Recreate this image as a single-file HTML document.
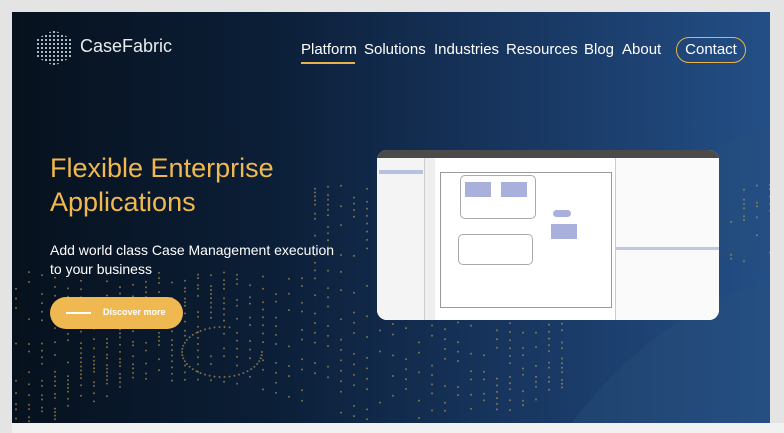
<!DOCTYPE html>
<html><head><meta charset="utf-8"><style>
*{margin:0;padding:0;box-sizing:border-box}
body{width:784px;height:433px;background:#e4e4e4;font-family:"Liberation Sans",sans-serif;overflow:hidden;position:relative}
#panel{position:absolute;left:12px;top:12px;width:758px;height:411px;overflow:hidden;background:linear-gradient(90deg,#06111d 0%,#0c1f38 35%,#17355e 65%,#234f86 100%)}
#bottom{position:absolute;left:12px;top:423px;width:772px;height:10px;background:#f1f1f1}
.nav{position:absolute;top:29px;color:#fff;font-size:15px}
</style></head><body>
<div id="panel">
<svg id="dots" width="758" height="411" style="position:absolute;left:0;top:0">
<path d="M560 411 C620 330 700 280 758 270 L758 411Z" fill="#2a4f7c" opacity="0.35"/>
<path d="M640 200 C690 140 730 120 758 115 L758 260 C720 250 680 230 640 200Z" fill="#2a4f7c" opacity="0.25"/>
</svg>
<div style="position:absolute;left:24px;top:18px;width:36px;height:36px;background:radial-gradient(circle,#cfd6df 0.8px,transparent 1.2px) 0 0/4px 4px;clip-path:polygon(50% 0,100% 25%,100% 75%,50% 100%,0 75%,0 25%)"></div>
<div style="position:absolute;left:68px;top:24px;color:#e8ecf0;font-size:18px">CaseFabric</div>
<div class="nav" style="left:289px">Platform</div>
<div style="position:absolute;left:289px;top:50px;width:54px;height:2px;background:#e6b24e"></div>
<div class="nav" style="left:352px">Solutions</div>
<div class="nav" style="left:422px">Industries</div>
<div class="nav" style="left:494px">Resources</div>
<div class="nav" style="left:572px">Blog</div>
<div class="nav" style="left:610px">About</div>
<div style="position:absolute;left:664px;top:25px;width:70px;height:26px;border:1.5px solid #e6b24e;border-radius:13px;color:#fff;font-size:15px;text-align:center;line-height:23px">Contact</div>
<div style="position:absolute;left:38px;top:139px;color:#f0b84e;font-size:27px;line-height:34px">Flexible Enterprise<br>Applications</div>
<div style="position:absolute;left:38px;top:229px;color:#fff;font-size:14px;line-height:19px">Add world class Case Management execution<br>to your business</div>
<div style="position:absolute;left:38px;top:285px;width:133px;height:32px;border-radius:16px;background:#efb851"></div>
<div style="position:absolute;left:54px;top:300px;width:25px;height:2px;background:#fff"></div>
<div style="position:absolute;left:91px;top:295px;color:#fff;font-size:9px;font-weight:bold">Discover more</div>
<div style="position:absolute;left:365px;top:138px;width:342px;height:170px;border-radius:10px;background:#fff;overflow:hidden">
 <div style="height:8px;background:#4a4a4a"></div>
 <div style="position:absolute;left:0;top:8px;width:48px;height:162px;background:#f4f4f4;border-right:1px solid #ccc"></div>
 <div style="position:absolute;left:2px;top:20px;width:44px;height:4px;background:#b8c0e0"></div>
 <div style="position:absolute;left:48px;top:8px;width:10px;height:162px;background:#eee"></div>
 <div style="position:absolute;left:63px;top:22px;width:172px;height:136px;border:1px solid #999"></div>
 <div style="position:absolute;left:83px;top:25px;width:76px;height:44px;border:1px solid #aaa;border-radius:5px"></div>
 <div style="position:absolute;left:88px;top:32px;width:26px;height:15px;background:#a9b0dc"></div>
 <div style="position:absolute;left:124px;top:32px;width:26px;height:15px;background:#a9b0dc"></div>
 <div style="position:absolute;left:81px;top:84px;width:75px;height:31px;border:1px solid #aaa;border-radius:5px"></div>
 <div style="position:absolute;left:176px;top:60px;width:18px;height:7px;border-radius:4px;background:#a9b0dc"></div>
 <div style="position:absolute;left:174px;top:74px;width:26px;height:15px;background:#a9b0dc"></div>
 <div style="position:absolute;left:238px;top:8px;width:104px;height:162px;background:#fafafa;border-left:1px solid #ccc"></div>
 <div style="position:absolute;left:238px;top:97px;width:104px;height:3px;background:#c0c6e4"></div>
</div>
</div>
<div id="bottom"></div>
<script>
var s=document.getElementById('dots'),h='';
function d(x,y,r){h+='<circle cx="'+x.toFixed(1)+'" cy="'+y.toFixed(1)+'" r="'+r+'" fill="#b89a52" opacity="0.65"/>';}
for(var i=0;i<60;i++){var x=4+i*13;for(var j=0;j<30;j++){var t=j/30;var y=215+j*7+35*Math.sin(i*0.15+t*3)-i*1.2;
 var inside=(x<300&&y>260)||(x>=300&&x<560&&y>170)||(x>=560&&y<250&&Math.random()<0.4);
 if(y>0&&y<411&&inside&&Math.random()<0.6)d(x,y,1);}}
for(var k=0;k<40;k++){var a=k/40*Math.PI*1.6;d(210+40*Math.cos(a),340+25*Math.sin(a),1);}
s.innerHTML+=h;
</script>
</body></html>
